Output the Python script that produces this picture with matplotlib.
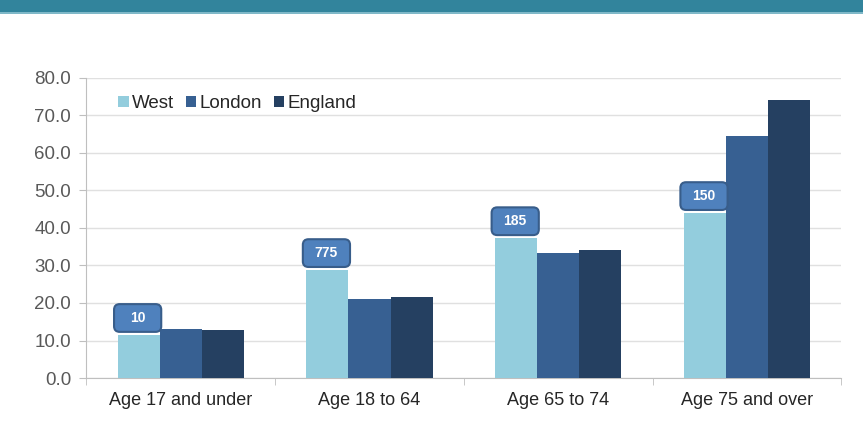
import matplotlib.pyplot as plt
import numpy as np
from matplotlib.patches import FancyBboxPatch, Rectangle

plt.rcParams['font.family'] = ['Liberation Sans', 'DejaVu Sans']

# Rates per age band
categories = ['Age 17 and under', 'Age 18 to 64', 'Age 65 to 74', 'Age 75 and over']
west = [11.5, 28.8, 37.3, 44.0]
london = [13.1, 21.1, 33.3, 64.5]
england = [12.8, 21.6, 34.1, 74.1]
west_counts = ['10', '775', '185', '150']

series = [('West', west, '#93CDDD'),
          ('London', london, '#376092'),
          ('England', england, '#254061')]

fig = plt.figure(figsize=(8.63, 4.33), dpi=100)

# teal band across the top
fig.patches.append(Rectangle((0, 0.972), 1, 0.028, transform=fig.transFigure,
                             facecolor='#32849C', edgecolor='none'))
fig.patches.append(Rectangle((0, 0.968), 1, 0.004, transform=fig.transFigure,
                             facecolor='#7FB8C8', edgecolor='none'))

ax = fig.add_axes([0.1, 0.127, 0.875, 0.693])

x = np.arange(len(categories))
w = 0.223
for i, (name, vals, col) in enumerate(series):
    ax.bar(x + (i - 1) * w, vals, w, color=col, label=name, zorder=3)

# callout boxes above the West bars
bw, bh = 0.25, 7.4
for xi, v, txt in zip(x, west, west_counts):
    cx = xi - w - 0.005
    box = FancyBboxPatch((cx - bw / 2, v + 0.8), bw, bh,
                         boxstyle='round,pad=0,rounding_size=0.03',
                         mutation_aspect=50,
                         facecolor='#4F81BD', edgecolor='#385D8A', lw=1.5, zorder=5)
    ax.add_patch(box)
    ax.text(cx, v + 0.8 + bh / 2, txt, ha='center', va='center', color='white',
            fontsize=10, fontweight='bold', zorder=6)

ax.set_xlim(-0.5, 3.5)
ax.set_ylim(0, 80)
ax.set_yticks(np.arange(0, 81, 10))
ax.set_yticklabels([f'{v:.1f}' for v in np.arange(0, 81, 10)])
ax.set_xticks(x)
ax.set_xticklabels(categories)
ax.set_xticks(np.arange(-0.5, 4, 1), minor=True)

ax.grid(axis='y', color='#E0E0E0', lw=1, zorder=0)
for s in ['top', 'right']:
    ax.spines[s].set_visible(False)
for s in ['left', 'bottom']:
    ax.spines[s].set_color('#BFBFBF')
ax.tick_params(axis='y', colors='#BFBFBF', labelcolor='#595959', labelsize=13.5,
               length=5, direction='out', pad=6)
ax.tick_params(axis='x', which='major', length=0, labelcolor='#262626',
               labelsize=13, pad=10)
ax.tick_params(axis='x', which='minor', length=5, color='#BFBFBF')

ax.legend(loc='upper left', bbox_to_anchor=(0.02, 1.0), ncol=3, frameon=False,
          fontsize=13.5, handlelength=0.55, handleheight=0.55, handletextpad=0.2,
          columnspacing=0.6, labelcolor='#262626')

fig.savefig('out.png', dpi=100, facecolor='white')
